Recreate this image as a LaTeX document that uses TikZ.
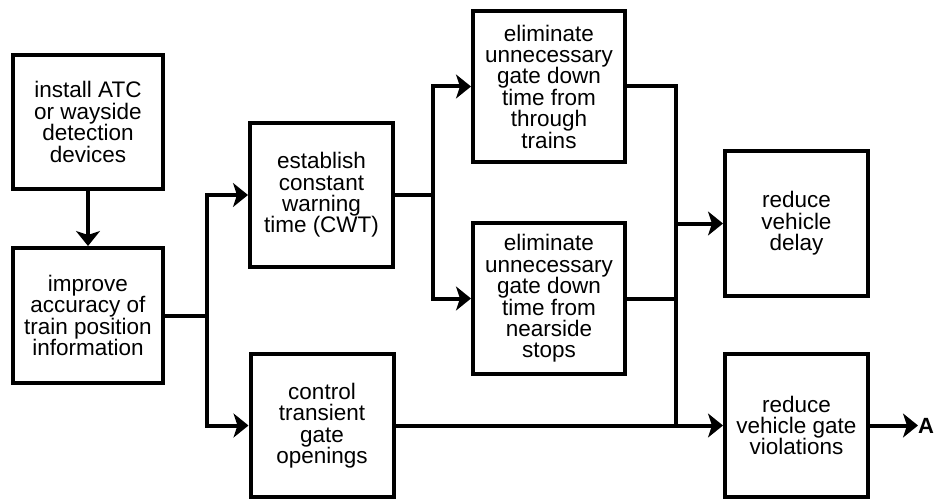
\documentclass[tikz,border=0pt]{standalone}
\usepackage{fontspec}
\setmainfont{Liberation Sans}
\usetikzlibrary{arrows.meta}
\begin{document}
\begin{tikzpicture}[x=1pt,y=-1pt,
  box/.style={draw, line width=4pt, inner sep=0pt, align=center,
    font=\fontsize{22.5}{21.4}\selectfont},
  conn/.style={line width=4pt, line join=miter},
  arr/.style={conn, -{Stealth[length=15pt,width=24pt,inset=4pt]}}
]
\useasboundingbox (0,0) rectangle (935,500);

\node[box, minimum width=150pt, minimum height=134pt] (inst) at (88,122)
  {install ATC\\or wayside\\detection\\devices};
\node[box, minimum width=150pt, minimum height=135pt] (impr) at (88,315.5)
  {improve\\accuracy of\\train position\\information};
\node[box, minimum width=143pt, minimum height=144pt] (cwt) at (321.5,195)
  {establish\\constant\\warning\\time (CWT)};
\node[box, minimum width=143pt, minimum height=143pt] (ctrl) at (322,425.5)
  {control\\transient\\gate\\openings};
\node[box, minimum width=152pt, minimum height=151pt] (top) at (549,86.5)
  {eliminate\\unnecessary\\gate down\\time from\\through\\trains};
\node[box, minimum width=152pt, minimum height=151pt] (bot) at (549,298.5)
  {eliminate\\unnecessary\\gate down\\time from\\nearside\\stops};
\node[box, minimum width=143pt, minimum height=145pt] (delay) at (796.5,223.5)
  {reduce\\vehicle\\delay};
\node[box, minimum width=143pt, minimum height=143pt] (viol) at (796.5,425.5)
  {reduce\\vehicle gate\\violations};
\node[anchor=west, inner sep=0pt, font=\fontsize{22}{22}\selectfont\bfseries] (A) at (918,425.5) {A};

\coordinate (j1) at (207,315.5);
\coordinate (j2) at (433,195);
\coordinate (j3top) at (676,86.5);
\coordinate (j3bot) at (676,425.5);
\coordinate (j3mid) at (676,298.5);
\coordinate (j3del) at (676,223.5);

\draw[arr] (inst) -- (impr);
\draw[conn] (impr.east) -- (j1);
\draw[arr] (j1) |- (cwt.west);
\draw[arr] (j1) |- (ctrl.west);
\draw[conn] (cwt.east) -- (j2);
\draw[arr] (j2) |- (top.west);
\draw[arr] (j2) |- (bot.west);
\draw[conn] (top.east) -- (j3top) -- (j3bot);
\draw[conn] (bot.east) -- (j3mid);
\draw[arr] (j3del) -- (delay.west);
\draw[arr] (ctrl.east) -- (viol.west);
\draw[arr] (viol.east) -- (A.west);
\end{tikzpicture}
\end{document}
